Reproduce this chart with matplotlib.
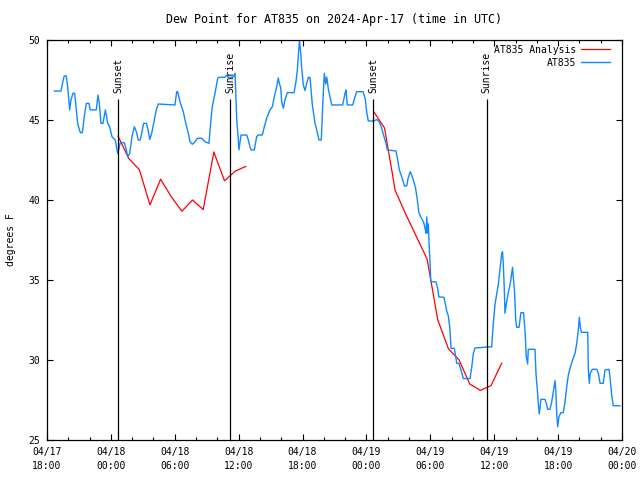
import matplotlib
matplotlib.use("Agg")
import matplotlib.pyplot as plt
import matplotlib.dates as mdates
from datetime import datetime, timedelta

# time axis origin: 2024-04-17 18:00 UTC
START = datetime(2024, 4, 17, 18, 0)
END = datetime(2024, 4, 20, 0, 0)

# station observations (hours after START, dew point F)
obs_hours = [
    0.69, 1.31, 1.50, 1.62, 1.81, 1.94, 2.13, 2.25, 2.44, 2.60,
    2.75, 2.88, 3.13, 3.32, 3.50, 3.69, 3.94, 4.07, 4.63, 4.79,
    4.91, 5.07, 5.26, 5.48, 5.57, 5.70, 5.89, 6.10, 6.41, 6.64,
    6.76, 6.88, 7.26, 7.45, 7.58, 7.77, 7.98, 8.20, 8.39, 8.57,
    8.76, 8.95, 9.08, 9.33, 9.46, 9.65, 9.83, 10.02, 10.26, 10.45,
    12.02, 12.18, 12.27, 12.49, 12.80, 13.03, 13.27, 13.43, 13.65, 13.90,
    14.12, 14.53, 14.84, 15.21, 15.31, 15.52, 15.78, 16.03, 16.15, 16.72,
    16.88, 17.00, 17.47, 17.66, 17.72, 17.82, 17.97, 18.03, 18.22, 18.75,
    18.91, 19.06, 19.16, 19.47, 19.69, 19.84, 20.22, 20.41, 20.63, 20.94,
    21.16, 21.35, 21.57, 21.72, 21.82, 21.95, 22.04, 22.19, 22.35, 22.57,
    23.20, 23.38, 23.51, 23.67, 23.71, 23.83, 23.92, 24.07, 24.23, 24.39,
    24.54, 24.70, 24.79, 24.92, 25.17, 25.33, 25.54, 25.76, 25.89, 26.04,
    26.17, 26.27, 26.42, 26.74, 27.77, 27.99, 28.08, 28.20, 28.71, 28.93,
    29.09, 29.68, 29.89, 30.02, 30.17, 30.71, 30.96, 31.21, 31.43, 31.65,
    31.84, 31.96, 32.78, 32.90, 33.09, 33.29, 33.46, 33.56, 33.78, 33.93,
    34.11, 34.25, 34.40, 34.61, 34.78, 34.91, 35.10, 35.36, 35.50, 35.59,
    35.67, 35.73, 35.81, 35.88, 35.97, 36.04, 36.53, 36.69, 36.80, 37.28,
    37.38, 37.54, 37.69, 37.85, 37.94, 38.25, 38.39, 38.48, 38.69, 38.88,
    39.10, 39.73, 39.89, 40.04, 40.20, 41.76, 41.91, 42.07, 42.23, 42.38,
    42.56, 42.70, 42.78, 42.85, 42.95, 43.01, 43.15, 43.32, 43.51, 43.64,
    43.72, 43.79, 43.90, 44.02, 44.11, 44.33, 44.51, 44.75, 44.89, 45.01,
    45.14, 45.20, 45.83, 45.92, 46.05, 46.14, 46.23, 46.39, 46.77, 46.93,
    47.02, 47.24, 47.40, 47.55, 47.71, 47.80, 47.87, 47.96, 48.08, 48.27,
    48.49, 48.65, 48.81, 48.96, 49.12, 49.28, 49.43, 49.59, 49.75, 49.90,
    49.99, 50.12, 50.22, 50.78, 50.84, 50.93, 51.02, 51.21, 51.63, 51.78,
    51.94, 52.24, 52.40, 52.78, 52.90, 53.03, 53.18, 53.81,
]
obs_dewpt = [
    46.81, 46.81, 47.44, 47.75, 47.75, 47.08, 45.63, 46.25, 46.67, 46.67,
    45.63, 44.79, 44.21, 44.21, 45.21, 46.04, 46.04, 45.63, 45.63, 46.56,
    46.04, 44.79, 44.79, 45.63, 45.31, 44.79, 44.58, 43.96, 43.75, 42.92,
    43.23, 43.58, 43.58, 43.13, 42.71, 42.92, 43.96, 44.58, 44.27, 43.75,
    43.75, 44.38, 44.79, 44.79, 44.48, 43.79, 44.17, 44.79, 45.63, 46.00,
    45.94, 46.77, 46.77, 46.14, 45.52, 44.79, 44.17, 43.64, 43.48, 43.64,
    43.86, 43.86, 43.64, 43.54, 44.38, 45.83, 46.67, 47.61, 47.67, 47.67,
    47.81, 47.67, 47.67, 47.92, 46.88, 45.00, 43.75, 43.13, 44.06, 44.06,
    43.75, 43.33, 43.13, 43.13, 43.96, 44.06, 44.06, 44.58, 45.11, 45.63,
    45.83, 46.46, 47.08, 47.63, 47.29, 47.00, 46.14, 45.73, 46.25, 46.71,
    46.71, 47.39, 48.13, 49.58, 50.00, 49.17, 48.25, 47.19, 46.84, 47.29,
    47.66, 47.66, 46.98, 45.94, 44.79, 44.38, 43.75, 43.75, 45.83, 47.92,
    47.25, 47.69, 46.94, 45.94, 45.94, 46.67, 46.88, 45.94, 45.94, 46.46,
    46.77, 46.77, 46.31, 45.52, 44.94, 44.94, 45.03, 44.89, 44.48, 43.96,
    43.54, 43.13, 43.06, 42.63, 41.88, 41.50, 41.14, 40.88, 40.88, 41.41,
    41.77, 41.56, 41.25, 40.75, 40.00, 39.25, 38.94, 38.63, 38.25, 37.92,
    38.94, 37.94, 38.50, 37.31, 36.13, 34.89, 34.88, 34.48, 33.94, 33.92,
    33.58, 33.06, 32.75, 31.88, 30.73, 30.73, 30.19, 29.79, 29.79, 29.38,
    28.84, 28.84, 29.56, 30.42, 30.75, 30.83, 32.25, 33.44, 34.13, 34.69,
    35.75, 36.63, 36.77, 36.04, 34.38, 32.92, 33.56, 34.22, 34.79, 35.38,
    35.79, 35.19, 34.38, 32.50, 32.04, 32.04, 32.96, 32.96, 31.88, 30.21,
    29.75, 30.67, 30.67, 29.17, 28.13, 27.29, 26.63, 27.54, 27.54, 27.19,
    26.92, 26.92, 27.39, 28.02, 28.71, 27.92, 26.56, 25.83, 26.46, 26.71,
    26.71, 27.39, 28.33, 29.06, 29.48, 29.83, 30.13, 30.42, 31.04, 31.88,
    32.67, 31.88, 31.73, 31.73, 29.38, 28.54, 29.17, 29.42, 29.42, 29.17,
    28.54, 28.54, 29.38, 29.42, 28.75, 27.81, 27.14, 27.14,
]

# analysis, two overnight runs (hours after START, dew point F)
ana1_hours = [6.67, 7.67, 8.67, 9.67, 10.67, 11.67, 12.67, 13.67, 14.67,
              15.67, 16.67, 17.67, 18.67]
ana1_dewpt = [44.0, 42.6, 41.9, 39.7, 41.3, 40.2, 39.3, 40.0, 39.4,
              43.0, 41.2, 41.8, 42.1]
ana2_hours = [30.7, 31.7, 32.7, 33.7, 34.7, 35.7, 36.7, 37.7, 38.7,
              39.7, 40.7, 41.7, 42.7]
ana2_dewpt = [45.5, 44.5, 40.6, 39.1, 37.7, 36.3, 32.5, 30.7, 30.0,
              28.5, 28.1, 28.4, 29.8]

# sun events (UTC)
sun_times = ["2024-04-18 00:40", "2024-04-18 11:13",
             "2024-04-19 00:39", "2024-04-19 11:17"]
sun_labels = ["Sunset", "Sunrise", "Sunset", "Sunrise"]

BLUE = "#1188ff"
RED = "#ff0000"


def to_times(hours):
    return [START + timedelta(hours=h) for h in hours]


plt.rcParams["font.family"] = ["DejaVu Sans Mono"]
plt.rcParams["font.size"] = 7

fig = plt.figure(figsize=(6.4, 4.8), dpi=100)
ax = fig.add_axes([47 / 640, 40 / 480, 575 / 640, 400 / 480])

ax.plot(to_times(ana1_hours), ana1_dewpt, color=RED, lw=0.9,
        label="AT835 Analysis")
ax.plot(to_times(ana2_hours), ana2_dewpt, color=RED, lw=0.9)
ax.plot(to_times(obs_hours), obs_dewpt, color=BLUE, lw=1.0, label="AT835")

for ts, lab in zip(sun_times, sun_labels):
    t = datetime.strptime(ts, "%Y-%m-%d %H:%M")
    ax.vlines(t, 25, 46.3, color="black", lw=0.9)
    ax.text(t, 46.7, lab, rotation=90, ha="center", va="bottom")

ax.set_xlim(START, END)
ax.set_ylim(25, 50)
ax.set_yticks([25, 30, 35, 40, 45, 50])
ax.xaxis.set_major_locator(mdates.HourLocator(byhour=[0, 6, 12, 18]))
ax.xaxis.set_minor_locator(mdates.HourLocator(byhour=range(0, 24, 2)))
ax.xaxis.set_major_formatter(mdates.DateFormatter("%m/%d\n%H:%M"))
ax.tick_params(which="both", direction="in", top=True, right=True,
               color="black", labelcolor="black")
ax.tick_params(which="major", length=4.5, width=0.8, pad=5)
ax.tick_params(which="minor", length=2.2, width=0.8)
for lbl in ax.get_xticklabels():
    lbl.set_linespacing(1.45)
for s in ax.spines.values():
    s.set_linewidth(0.9)

ax.set_ylabel("degrees F", labelpad=9)
ax.set_title("Dew Point for AT835 on 2024-Apr-17 (time in UTC)", pad=12)

leg = ax.legend(loc="upper right", frameon=False, markerfirst=False,
                handlelength=3.0, handletextpad=0.5, labelspacing=0.3,
                borderaxespad=0, bbox_to_anchor=(0.986, 0.998), fontsize=7)

fig.savefig("out.png", dpi=100)
